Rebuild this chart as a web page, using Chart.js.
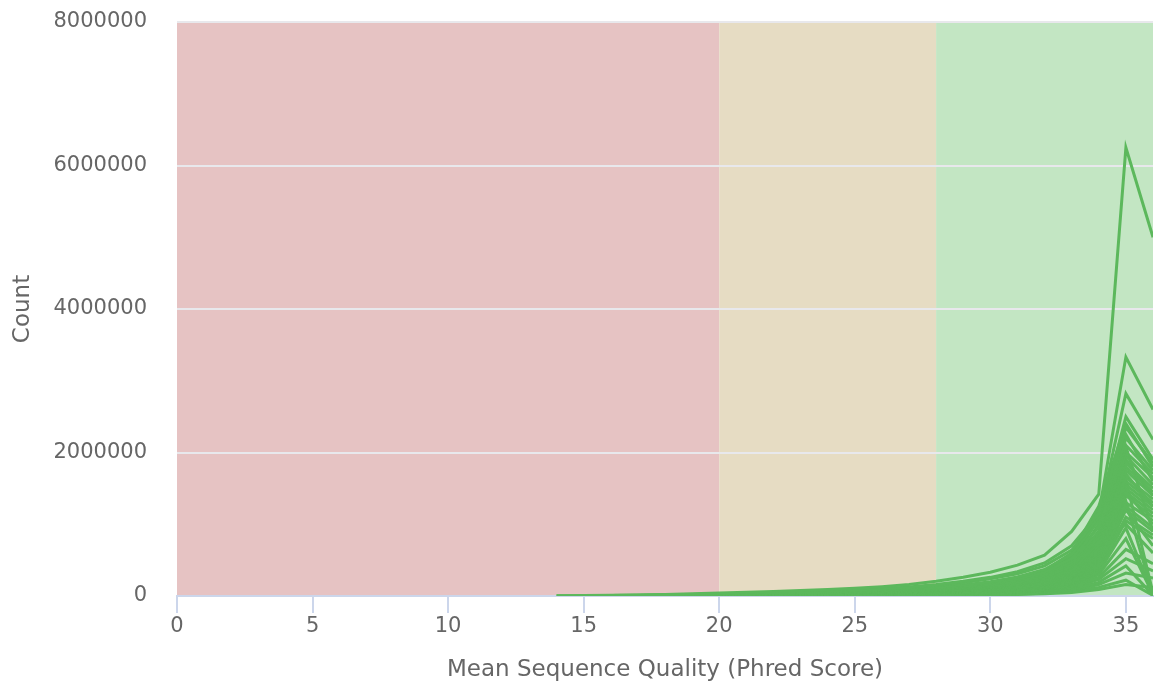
<!DOCTYPE html>
<html>
<head>
<meta charset="utf-8">
<script src="https://cdn.jsdelivr.net/npm/chart.js@4.4.3/dist/chart.umd.min.js"></script>
<style>
  html, body { margin: 0; padding: 0; background: #fff; }
  #wrap { width: 1156px; height: 684px; }
</style>
</head>
<body>
<div id="wrap"><canvas id="quality-chart"></canvas></div>
<script>
// Per-sequence mean quality, one line per sample
const quality = [14, 15, 16, 17, 18, 19, 20, 21, 22, 23, 24, 25, 26, 27, 28, 29, 30, 31, 32, 33, 34, 35, 36];

const _ = null;
const samples = [
  [4000, 7000, 10000, 14000, 20000, 30000, 42000, 52000, 63000, 76000, 90000, 108000, 130000, 160000, 205000, 260000, 330000, 430000, 570000, 900000, 1420000, 6250000, 5000000],
  [3000, 5000, 8000, 11000, 16000, 22000, 30000, 38000, 47000, 58000, 70000, 84000, 100000, 125000, 160000, 205000, 260000, 340000, 460000, 700000, 1150000, 3330000, 2600000],
  [_, _, 6000, 9000, 13000, 19000, 28000, 35000, 43000, 52000, 62000, 75000, 92000, 115000, 145000, 185000, 240000, 310000, 420000, 640000, 1100000, 2820000, 2180000],
  [_, _, _, 7000, 11000, 17000, 25000, 31000, 38000, 46000, 55000, 66000, 80000, 98000, 122000, 155000, 200000, 265000, 370000, 580000, 1050000, 2500000, 1900000],
  [_, _, _, _, 9000, 15000, 22000, 28000, 34000, 41000, 50000, 60000, 72000, 88000, 110000, 140000, 180000, 240000, 330000, 520000, 960000, 2350000, 1850000],
  [_, _, _, _, _, 12000, 20000, 25000, 31000, 38000, 46000, 55000, 66000, 80000, 100000, 128000, 165000, 220000, 305000, 480000, 900000, 2200000, 1750000],
  [_, _, _, _, _, _, 18000, 23000, 28000, 34000, 41000, 50000, 60000, 73000, 92000, 118000, 152000, 200000, 280000, 450000, 860000, 2100000, 1700000],
  [_, _, _, _, _, _, 17000, 21000, 26000, 32000, 39000, 47000, 57000, 70000, 87000, 110000, 142000, 188000, 262000, 420000, 820000, 2000000, 1650000],
  [_, _, _, _, _, _, 16000, 20000, 24000, 30000, 36000, 43000, 52000, 64000, 80000, 102000, 132000, 175000, 245000, 400000, 780000, 1950000, 1550000],
  [_, _, _, _, _, _, 15000, 19000, 23000, 28000, 34000, 41000, 49000, 60000, 75000, 95000, 124000, 165000, 230000, 375000, 740000, 1850000, 1500000],
  [_, _, _, _, _, _, 14000, 17000, 21000, 26000, 32000, 38000, 46000, 56000, 70000, 89000, 116000, 155000, 215000, 350000, 700000, 1800000, 1450000],
  [_, _, _, _, _, _, 13000, 16000, 20000, 24000, 29000, 35000, 42000, 52000, 65000, 83000, 108000, 144000, 200000, 330000, 660000, 1750000, 1400000],
  [_, _, _, _, _, _, 12000, 15000, 18000, 22000, 27000, 33000, 40000, 49000, 61000, 78000, 101000, 135000, 188000, 310000, 630000, 1650000, 1350000],
  [_, _, _, _, _, _, 11000, 14000, 17000, 21000, 25000, 30000, 37000, 45000, 57000, 72000, 94000, 126000, 175000, 290000, 600000, 1600000, 1300000],
  [_, _, _, _, _, _, 10000, 13000, 16000, 19000, 23000, 28000, 34000, 42000, 53000, 67000, 88000, 118000, 165000, 270000, 570000, 1550000, 1250000],
  [_, _, _, _, _, _, 10000, 12000, 15000, 18000, 22000, 26000, 32000, 39000, 49000, 62000, 82000, 110000, 155000, 255000, 540000, 1500000, 1200000],
  [_, _, _, _, _, _, 9000, 11000, 14000, 17000, 20000, 24000, 30000, 36000, 46000, 58000, 76000, 102000, 145000, 240000, 510000, 1450000, 1150000],
  [_, _, _, _, _, _, 8000, 10000, 13000, 15000, 19000, 22000, 27000, 33000, 42000, 54000, 70000, 95000, 135000, 225000, 480000, 1400000, 1100000],
  [_, _, _, _, _, _, 8000, 10000, 12000, 14000, 17000, 21000, 25000, 31000, 39000, 50000, 65000, 88000, 125000, 210000, 450000, 1300000, 1050000],
  [_, _, _, _, _, _, 7000, 9000, 11000, 13000, 16000, 19000, 23000, 29000, 36000, 46000, 60000, 82000, 116000, 195000, 420000, 1250000, 950000],
  [_, _, _, _, _, _, 7000, 8000, 10000, 12000, 15000, 18000, 22000, 27000, 33000, 42000, 56000, 76000, 108000, 180000, 400000, 1200000, 900000],
  [_, _, _, _, _, _, 6000, 8000, 9000, 11000, 14000, 16000, 20000, 25000, 31000, 39000, 52000, 70000, 100000, 170000, 380000, 1100000, 850000],
  [_, _, _, _, _, _, 6000, 7000, 9000, 10000, 13000, 15000, 18000, 23000, 28000, 36000, 48000, 65000, 92000, 160000, 350000, 1050000, 800000],
  [_, _, _, _, _, _, 20000, 26000, 33000, 41000, 50000, 61000, 74000, 91000, 113000, 143000, 185000, 250000, 350000, 600000, 1250000, 2400000, 1800000],
  [_, _, _, _, _, _, 18000, 24000, 30000, 37000, 45000, 55000, 67000, 83000, 104000, 133000, 172000, 230000, 330000, 560000, 1200000, 2250000, 1600000],
  [_, _, _, _, _, _, 16000, 21000, 27000, 33000, 41000, 50000, 61000, 75000, 95000, 121000, 158000, 212000, 300000, 520000, 1150000, 1900000, 1400000],
  [_, _, _, _, _, _, 14000, 18000, 23000, 29000, 36000, 44000, 54000, 67000, 85000, 108000, 140000, 190000, 270000, 480000, 1080000, 1700000, 1250000],
  [_, _, _, _, _, _, 12000, 16000, 20000, 25000, 31000, 38000, 47000, 58000, 74000, 95000, 124000, 168000, 240000, 430000, 1000000, 1450000, 1000000],
  [_, _, _, _, _, _, 10000, 13000, 17000, 21000, 26000, 32000, 40000, 50000, 63000, 81000, 106000, 145000, 210000, 380000, 900000, 1200000, 700000],
  [_, _, _, _, _, _, 9000, 12000, 15000, 18000, 23000, 28000, 35000, 44000, 55000, 71000, 93000, 126000, 180000, 320000, 750000, 1000000, 600000],
  [_, _, _, _, _, _, 9000, 11000, 14000, 17000, 21000, 25000, 31000, 38000, 48000, 61000, 80000, 108000, 150000, 250000, 560000, 1620000, 40000],
  [_, _, _, _, _, _, 8000, 10000, 12000, 15000, 18000, 22000, 27000, 33000, 42000, 54000, 71000, 96000, 135000, 225000, 500000, 1320000, 15000],
  [_, _, _, _, _, _, 12000, 15000, 19000, 23000, 28000, 34000, 41000, 50000, 63000, 80000, 104000, 140000, 195000, 330000, 700000, 2080000, 900000],
  [_, _, _, _, _, _, 5000, 6000, 8000, 9000, 11000, 14000, 17000, 21000, 26000, 34000, 45000, 62000, 90000, 150000, 330000, 950000, 30000],
  [_, _, _, _, _, _, 5000, 6000, 7000, 9000, 11000, 13000, 16000, 20000, 25000, 32000, 42000, 58000, 84000, 140000, 300000, 800000, 20000],
  [_, _, _, _, _, _, 4000, 5000, 6000, 8000, 10000, 12000, 14000, 18000, 22000, 29000, 38000, 52000, 75000, 125000, 260000, 650000, 450000],
  [_, _, _, _, _, _, 4000, 5000, 6000, 7000, 9000, 11000, 13000, 16000, 20000, 26000, 34000, 46000, 66000, 110000, 230000, 520000, 350000],
  [_, _, _, _, _, _, 3000, 4000, 5000, 6000, 8000, 9000, 11000, 14000, 18000, 23000, 30000, 40000, 58000, 95000, 190000, 420000, 10000],
  [_, _, _, _, _, _, 3000, 4000, 5000, 6000, 7000, 8000, 10000, 12000, 15000, 20000, 26000, 35000, 50000, 80000, 160000, 320000, 250000],
  [_, _, _, _, _, _, 2000, 3000, 4000, 5000, 6000, 7000, 8000, 10000, 13000, 16000, 21000, 28000, 40000, 65000, 120000, 220000, 8000],
  [_, _, _, _, _, _, 2000, 2000, 3000, 4000, 5000, 6000, 7000, 8000, 10000, 13000, 17000, 22000, 30000, 48000, 90000, 160000, 120000]
];

// Quality thresholds: fail < 20, warn 20-28, pass 28+
const bandEdges = [0, 20, 28, 36];
const bandColors = ['#e6c3c3', '#e6dcc3', '#c3e6c3'];

const yTicks = [0, 2000000, 4000000, 6000000, 8000000];
const xTicks = [0, 5, 10, 15, 20, 25, 30, 35];

const lineColor = '#5cb85c';
const textColor = '#666666';
const fontFamily = '"DejaVu Sans", "Lucida Grande", sans-serif';

const bandPlugin = {
  id: 'qualityBands',
  beforeDraw(chart) {
    const { ctx, chartArea, scales } = chart;
    const x = scales.x;
    ctx.save();
    for (let i = 0; i < bandColors.length; i++) {
      const x0 = x.getPixelForValue(bandEdges[i]);
      const x1 = x.getPixelForValue(bandEdges[i + 1]);
      ctx.fillStyle = bandColors[i];
      ctx.fillRect(x0, chartArea.top, x1 - x0, chartArea.bottom - chartArea.top);
    }
    ctx.restore();
  }
};

function toPoints(values) {
  return quality
    .map((q, i) => ({ x: q, y: values[i] }))
    .filter(p => p.y !== null);
}

const datasets = samples.map((values, i) => ({
  label: 'Sample ' + (i + 1),
  data: toPoints(values),
  borderColor: lineColor,
  backgroundColor: lineColor,
  borderWidth: 3,
  pointRadius: 0,
  tension: 0,
  fill: false
}));

new Chart(document.getElementById('quality-chart'), {
  type: 'line',
  data: { datasets },
  plugins: [bandPlugin],
  options: {
    responsive: true,
    maintainAspectRatio: false,
    animation: false,
    layout: { padding: { top: 22, right: 3, left: 3, bottom: 0 } },
    plugins: {
      legend: { display: false },
      tooltip: { enabled: false }
    },
    scales: {
      x: {
        type: 'linear',
        min: 0,
        max: 36,
        afterBuildTicks: (scale) => { scale.ticks = xTicks.map(v => ({ value: v })); },
        afterFit: (scale) => { scale.height = 88; },
        ticks: {
          color: textColor,
          font: { family: fontFamily, size: 21 },
          padding: 1,
          maxRotation: 0,
          callback: (v) => String(v)
        },
        grid: {
          drawOnChartArea: false,
          drawTicks: true,
          tickLength: 17,
          color: '#ccd6eb',
          lineWidth: 2
        },
        border: { display: true, color: '#ccd6eb', width: 2 },
        title: {
          display: true,
          text: 'Mean Sequence Quality (Phred Score)',
          color: textColor,
          font: { family: fontFamily, size: 23 },
          padding: { top: 0, bottom: 0 }
        }
      },
      y: {
        min: 0,
        max: 8000000,
        afterBuildTicks: (scale) => { scale.ticks = yTicks.map(v => ({ value: v })); },
        // labels sit 30px off the plot; keep that gap out of the top/bottom padding
        afterFit: (scale) => {
          scale.width = 174;
          scale.paddingTop = 0;
          scale.paddingBottom = 0;
        },
        ticks: {
          color: textColor,
          font: { family: fontFamily, size: 21 },
          padding: 30,
          callback: (v) => String(v)
        },
        grid: {
          drawTicks: false,
          color: (c) => c.tick.value === 0 ? 'rgba(0,0,0,0)' : '#e8e8ec',
          lineWidth: 2
        },
        border: { display: false },
        title: {
          display: true,
          text: 'Count',
          color: textColor,
          font: { family: fontFamily, size: 23 },
          padding: { top: 6, bottom: 0 }
        }
      }
    }
  }
});
</script>
</body>
</html>
